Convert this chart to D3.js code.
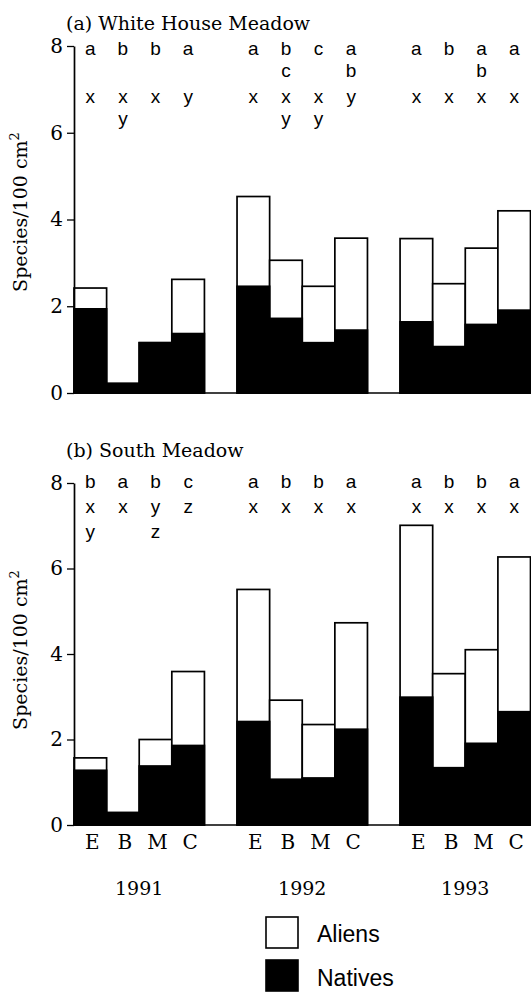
<!DOCTYPE html>
<html>
<head>
<meta charset="utf-8">
<script src="https://cdn.jsdelivr.net/npm/d3@7"></script>
<style>
  html, body { margin: 0; padding: 0; background: #fff; }
  svg { display: block; }
</style>
</head>
<body>
<svg id="chart" width="531" height="992"></svg>
<script>
// ---------------- DATA ----------------
const years = ["1991", "1992", "1993"];
const treatments = ["E", "B", "M", "C"];
const yTicks = [0, 2, 4, 6, 8];
const seriesNames = ["Aliens", "Natives"];

// Panel (a) White House Meadow: totals (natives + aliens) and natives
const whmTotal   = [2.42, 0.22, 1.16, 2.62,  4.53, 3.06, 2.46, 3.57,  3.56, 2.52, 3.34, 4.20];
const whmNatives = [1.94, 0.22, 1.16, 1.37,  2.46, 1.72, 1.16, 1.45,  1.64, 1.07, 1.58, 1.91];
const whmLettersA = [["a"],["b"],["b"],["a"], ["a"],["b","c"],["c"],["a","b"], ["a"],["b"],["a","b"],["a"]];
const whmLettersB = [["x"],["x","y"],["x"],["y"], ["x"],["x","y"],["x","y"],["y"], ["x"],["x"],["x"],["x"]];

// Panel (b) South Meadow
const smTotal   = [1.57, 0.29, 2.00, 3.59,  5.51, 2.92, 2.35, 4.73,  7.01, 3.54, 4.10, 6.27];
const smNatives = [1.28, 0.29, 1.38, 1.86,  2.42, 1.07, 1.10, 2.24,  2.99, 1.34, 1.91, 2.65];
const smLettersA = [["b"],["a"],["b"],["c"], ["a"],["b"],["b"],["a"], ["a"],["b"],["b"],["a"]];
const smLettersB = [["x","y"],["x"],["y","z"],["z"], ["x"],["x"],["x"],["x"], ["x"],["x"],["x"],["x"]];

// ---------------- LAYOUT ----------------
const svg = d3.select("#chart");
const serif = "'DejaVu Serif', serif";
const sans = "'Liberation Sans', Arial, sans-serif";

// columns incl. gaps between years
const columns = [];
years.forEach((yr, yi) => {
  treatments.forEach(t => columns.push(yr + "-" + t));
  if (yi < years.length - 1) columns.push("gap" + yi);
});
const x = d3.scaleBand().domain(columns).range([74, 530.5]).padding(0);

const bars = [];
years.forEach(yr => treatments.forEach(t => bars.push(yr + "-" + t)));

const panels = [
  { title: "(a) White House Meadow", titleY: 30, y0: 393, y8: 46,
    total: whmTotal, natives: whmNatives,
    lettersA: whmLettersA, lettersB: whmLettersB,
    rowA: 55, rowB: 103, lineGap: 22, labelY: 212 },
  { title: "(b) South Meadow", titleY: 457, y0: 825, y8: 483,
    total: smTotal, natives: smNatives,
    lettersA: smLettersA, lettersB: smLettersB,
    rowA: 488, rowB: 513, lineGap: 24.5, labelY: 650 }
];

panels.forEach(p => {
  const y = d3.scaleLinear().domain([0, 8]).range([p.y0, p.y8]);
  const g = svg.append("g");

  // title
  g.append("text").attr("x", 66).attr("y", p.titleY)
    .attr("font-family", serif).attr("font-size", 19).attr("fill", "#000")
    .text(p.title);

  // y label
  const lab = g.append("text")
    .attr("transform", `translate(27,${p.labelY}) rotate(-90)`)
    .attr("text-anchor", "middle")
    .attr("font-family", serif).attr("font-size", 19).attr("fill", "#000");
  lab.append("tspan").text("Species/100 cm");
  lab.append("tspan").attr("font-size", 13).attr("dy", -8).text("2");

  // bars: aliens (white, full total) then natives (black)
  g.selectAll("rect.alien").data(bars).enter().append("rect")
    .attr("class", "alien")
    .attr("x", d => x(d))
    .attr("width", x.bandwidth())
    .attr("y", (d, i) => y(p.total[i]))
    .attr("height", (d, i) => y(0) - y(p.total[i]))
    .attr("fill", "#fff").attr("stroke", "#000").attr("stroke-width", 1.7);

  g.selectAll("rect.native").data(bars).enter().append("rect")
    .attr("class", "native")
    .attr("x", d => x(d))
    .attr("width", x.bandwidth())
    .attr("y", (d, i) => y(p.natives[i]))
    .attr("height", (d, i) => y(0) - y(p.natives[i]))
    .attr("fill", "#000").attr("stroke", "#000").attr("stroke-width", 1.7);

  // baseline
  g.append("line").attr("x1", x.range()[0]).attr("x2", x.range()[1])
    .attr("y1", y(0)).attr("y2", y(0))
    .attr("stroke", "#000").attr("stroke-width", 1.7);

  // y axis
  const ax = g.append("g").attr("transform", "translate(74,0)")
    .call(d3.axisLeft(y).tickValues(yTicks).tickSize(7).tickSizeOuter(0).tickPadding(4));
  ax.select(".domain").attr("stroke-width", 1.7);
  ax.selectAll(".tick line").attr("stroke-width", 1.3);
  ax.selectAll(".tick text").attr("font-family", serif).attr("font-size", 20).attr("fill", "#000");

  // significance letters
  bars.forEach((b, i) => {
    const cx = x(b) + x.bandwidth() / 2;
    p.lettersA[i].forEach((l, k) => {
      g.append("text").attr("x", cx).attr("y", p.rowA + k * p.lineGap)
        .attr("text-anchor", "middle").attr("font-family", sans).attr("font-size", 19)
        .text(l);
    });
    p.lettersB[i].forEach((l, k) => {
      g.append("text").attr("x", cx).attr("y", p.rowB + k * p.lineGap)
        .attr("text-anchor", "middle").attr("font-family", sans).attr("font-size", 19)
        .text(l);
    });
  });
});

// x labels (treatments and years)
bars.forEach(b => {
  const t = b.split("-")[1];
  svg.append("text").attr("x", x(b) + x.bandwidth() / 2 + 2).attr("y", 849)
    .attr("text-anchor", "middle").attr("font-family", serif).attr("font-size", 20)
    .text(t);
});
years.forEach(yr => {
  const first = x(yr + "-" + treatments[0]);
  const last = x(yr + "-" + treatments[treatments.length - 1]) + x.bandwidth();
  svg.append("text").attr("x", (first + last) / 2).attr("y", 895)
    .attr("text-anchor", "middle").attr("font-family", serif).attr("font-size", 19)
    .text(yr);
});

// legend
const legend = svg.append("g");
seriesNames.forEach((s, i) => {
  legend.append("rect").attr("x", 266).attr("y", 917 + i * 43)
    .attr("width", 32).attr("height", 31)
    .attr("fill", s === "Natives" ? "#000" : "#fff")
    .attr("stroke", "#000").attr("stroke-width", 1.6);
  legend.append("text").attr("x", 317).attr("y", 942 + i * 44)
    .attr("font-family", sans).attr("font-size", 23).text(s);
});
</script>
</body>
</html>
